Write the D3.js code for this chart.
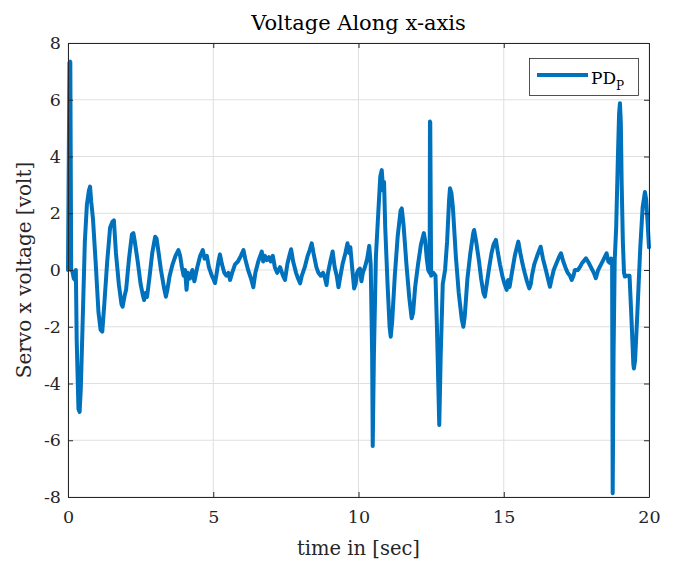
<!DOCTYPE html>
<html><head><meta charset="utf-8">
<script src="https://cdn.jsdelivr.net/npm/d3@7"></script>
<style>body{margin:0;background:#fff;} svg{display:block;}</style>
</head><body>
<script>
const times = [0,0.05,0.08,0.11,0.15,0.2,0.24,0.27,0.3,0.36,0.4,0.44,0.5,0.58,0.65,0.72,0.76,0.8,0.86,0.95,1.05,1.12,1.18,1.25,1.35,1.45,1.53,1.58,1.65,1.75,1.84,1.88,1.95,2.0,2.1,2.2,2.25,2.3,2.4,2.5,2.58,2.62,2.68,2.72,2.8,2.9,3.0,3.05,3.12,3.2,3.3,3.37,3.42,3.5,3.6,3.7,3.8,3.86,3.92,3.98,4.03,4.08,4.13,4.2,4.28,4.35,4.45,4.55,4.64,4.7,4.78,4.85,4.95,5.02,5.06,5.12,5.18,5.23,5.3,5.38,5.45,5.52,5.58,5.65,5.75,5.85,5.95,6.04,6.1,6.2,6.3,6.38,6.45,6.55,6.67,6.72,6.78,6.85,6.92,6.98,7.05,7.12,7.2,7.3,7.4,7.47,7.55,7.62,7.68,7.75,7.85,7.92,7.99,8.05,8.15,8.25,8.32,8.39,8.45,8.55,8.62,8.7,8.78,8.85,8.9,8.95,9.03,9.11,9.18,9.25,9.31,9.38,9.45,9.55,9.62,9.68,9.72,9.78,9.85,9.9,9.95,10.0,10.05,10.1,10.15,10.22,10.3,10.37,10.42,10.47,10.49,10.53,10.6,10.68,10.75,10.8,10.85,10.88,10.92,11.0,11.07,11.11,11.16,11.25,11.35,11.45,11.49,11.55,11.65,11.75,11.83,11.88,11.95,12.05,12.15,12.25,12.3,12.35,12.4,12.45,12.46,12.47,12.5,12.58,12.65,12.7,12.78,12.83,12.9,12.98,13.05,13.12,13.15,13.2,13.25,13.35,13.45,13.55,13.61,13.66,13.75,13.85,13.95,13.98,14.05,14.15,14.22,14.3,14.35,14.4,14.5,14.58,14.65,14.73,14.8,14.87,14.95,15.03,15.1,15.15,15.2,15.28,15.38,15.5,15.57,15.65,15.72,15.8,15.88,15.93,15.97,16.05,16.15,16.27,16.35,16.45,16.52,16.59,16.65,16.72,16.8,16.9,16.97,17.05,17.12,17.2,17.28,17.34,17.4,17.45,17.55,17.62,17.7,17.83,17.9,18.0,18.1,18.17,18.25,18.35,18.45,18.54,18.6,18.65,18.7,18.73,18.75,18.78,18.82,18.87,18.93,18.97,19.0,19.03,19.06,19.1,19.14,19.17,19.25,19.33,19.4,19.46,19.48,19.52,19.6,19.7,19.78,19.86,19.9,19.95,20.0];
const voltages = [0,7.3,7.34,0.0,-0.05,-0.3,-0.35,0,-2.5,-4.9,-5.0,-4.2,-2.0,1.0,2.3,2.8,2.94,2.4,1.8,0.3,-1.5,-2.1,-2.17,-1.2,0.3,1.5,1.7,1.75,0.6,-0.5,-1.2,-1.29,-0.9,-0.7,0.4,1.25,1.3,1.0,0.3,-0.5,-0.9,-1.06,-0.8,-0.95,-0.3,0.6,1.17,1.1,0.6,0.0,-0.6,-0.94,-0.7,-0.2,0.2,0.5,0.7,0.5,0.1,-0.2,0.0,-0.7,-0.1,-0.3,0.0,-0.4,0.1,0.5,0.7,0.4,0.5,0.1,-0.2,-0.35,-0.46,-0.1,0.3,0.55,0.2,-0.1,-0.2,-0.1,-0.35,-0.1,0.2,0.3,0.5,0.7,0.4,0.0,-0.3,-0.61,-0.1,0.3,0.65,0.3,0.5,0.35,0.45,0.3,0.5,0.1,-0.1,0.1,-0.2,-0.35,0.2,0.5,0.73,0.3,-0.1,-0.3,-0.47,-0.2,0.1,0.5,0.7,0.94,0.6,0.1,-0.1,-0.2,-0.1,-0.3,-0.53,-0.1,0.3,0.65,0.1,-0.2,-0.61,-0.2,0.2,0.6,0.94,0.6,0.8,0.1,-0.65,-0.5,-0.1,0.0,0.05,-0.4,-0.1,0.1,0.4,0.85,0.2,-3.0,-6.2,-3.0,0.5,2.0,3.3,3.52,2.8,3.1,1.5,-0.5,-2.0,-2.35,-1.8,-0.2,1.2,2.1,2.17,1.6,0.2,-1.0,-1.7,-1.5,-0.6,0.2,0.9,1.3,1.0,0.4,0.0,-0.1,5.23,5.2,-0.2,-0.1,-0.2,-2.0,-5.46,-3.0,-0.5,0.0,1.0,2.5,2.88,2.7,2.2,0.5,-0.8,-1.7,-2.0,-1.6,-0.3,0.6,1.3,1.41,1.0,0.3,-0.3,-0.8,-0.94,-0.6,0.1,0.6,0.9,1.06,0.6,0.2,-0.2,-0.5,-0.7,-0.35,-0.6,-0.1,0.5,1.0,0.6,0.2,-0.1,-0.4,-0.65,-0.5,-0.2,0.2,0.5,0.82,0.4,0.0,-0.3,-0.59,-0.3,0.0,0.2,0.45,0.59,0.3,0.1,-0.1,-0.2,-0.35,-0.2,0.0,0.0,0.1,0.25,0.41,0.3,0.1,-0.1,-0.29,0.0,0.2,0.4,0.59,0.3,0.25,0.4,0.2,-7.87,-3.0,0.35,1.5,4.0,5.5,5.88,5.2,3.0,1.0,-0.1,-0.23,-0.2,-0.2,-1.8,-3.3,-3.47,-3.2,-1.5,0.8,2.2,2.75,2.5,1.7,0.8];
const xTicks = [0,5,10,15,20];
const yTicks = [-8,-6,-4,-2,0,2,4,6,8];
const seriesName = "PD";
const seriesSub = "P";
const titleText = "Voltage Along x-axis";
const xLabel = "time in [sec]";
const yLabel = "Servo x voltage [volt]";

const W = 677, H = 562;
const m = {left:68, right:28, top:43, bottom:65};
const pw = W - m.left - m.right, ph = H - m.top - m.bottom;
const font = "'DejaVu Serif', 'Liberation Serif', serif";
const axisColor = "#262626";

const svg = d3.select("body").append("svg").attr("width", W).attr("height", H);
const x = d3.scaleLinear().domain([0,20]).range([m.left, m.left+pw]);
const y = d3.scaleLinear().domain([-8,8]).range([m.top+ph, m.top]);

const g = svg.append("g");
g.selectAll(".gx").data(xTicks).enter().append("line")
  .attr("x1", d=>x(d)).attr("x2", d=>x(d)).attr("y1", m.top).attr("y2", m.top+ph)
  .attr("stroke", "#dfdfdf").attr("stroke-width", 1);
g.selectAll(".gy").data(yTicks).enter().append("line")
  .attr("y1", d=>y(d)).attr("y2", d=>y(d)).attr("x1", m.left).attr("x2", m.left+pw)
  .attr("stroke", "#dfdfdf").attr("stroke-width", 1);

const data = times.map((t,i)=>({t, v: voltages[i]}));
g.append("path").datum(data)
  .attr("fill","none").attr("stroke","#0072BD").attr("stroke-width",4)
  .attr("stroke-linejoin","round").attr("stroke-linecap","round")
  .attr("d", d3.line().x(d=>x(d.t)).y(d=>y(d.v)));

const ax = svg.append("g").attr("transform",`translate(0,${m.top+ph})`)
  .call(d3.axisBottom(x).tickValues(xTicks).tickSizeInner(-5).tickSizeOuter(0).tickPadding(14));
const axT = svg.append("g").attr("transform",`translate(0,${m.top})`)
  .call(d3.axisTop(x).tickValues(xTicks).tickSizeInner(-5).tickSizeOuter(0).tickFormat(""));
const ay = svg.append("g").attr("transform",`translate(${m.left},0)`)
  .call(d3.axisLeft(y).tickValues(yTicks).tickSizeInner(-5).tickSizeOuter(0).tickPadding(7).tickFormat(d=>String(d)));
const ayR = svg.append("g").attr("transform",`translate(${m.left+pw},0)`)
  .call(d3.axisRight(y).tickValues(yTicks).tickSizeInner(-5).tickSizeOuter(0).tickFormat(""));
[ax,axT,ay,ayR].forEach(a=>{
  a.select(".domain").attr("stroke",axisColor).attr("stroke-width",1);
  a.selectAll(".tick line").attr("stroke",axisColor);
  a.selectAll("text").attr("fill",axisColor).style("font-family",font).style("font-size","17.5px");
});

svg.append("text").attr("x", m.left+pw/2).attr("y", 30).attr("text-anchor","middle")
  .style("font-family",font).style("font-size","21px").attr("fill","#000").text(titleText);
svg.append("text").attr("x", m.left+pw/2).attr("y", 555).attr("text-anchor","middle")
  .style("font-family",font).style("font-size","19.5px").attr("fill",axisColor).text(xLabel);
svg.append("text").attr("transform",`translate(31,${m.top+ph/2}) rotate(-90)`).attr("text-anchor","middle")
  .style("font-family",font).style("font-size","20px").attr("fill",axisColor).text(yLabel);

const lg = svg.append("g");
lg.append("rect").attr("x",529.5).attr("y",58.5).attr("width",109).attr("height",37)
  .attr("fill","#fff").attr("stroke","#262626").attr("stroke-width",0.8);
lg.append("line").attr("x1",537).attr("x2",588).attr("y1",75).attr("y2",75)
  .attr("stroke","#0072BD").attr("stroke-width",4);
const lt = lg.append("text").attr("x",591).attr("y",84).style("font-family",font).style("font-size","17px").attr("fill","#000");
lt.append("tspan").text(seriesName);
lt.append("tspan").attr("dy",6).style("font-size","12px").text(seriesSub);
</script>
</body></html>
